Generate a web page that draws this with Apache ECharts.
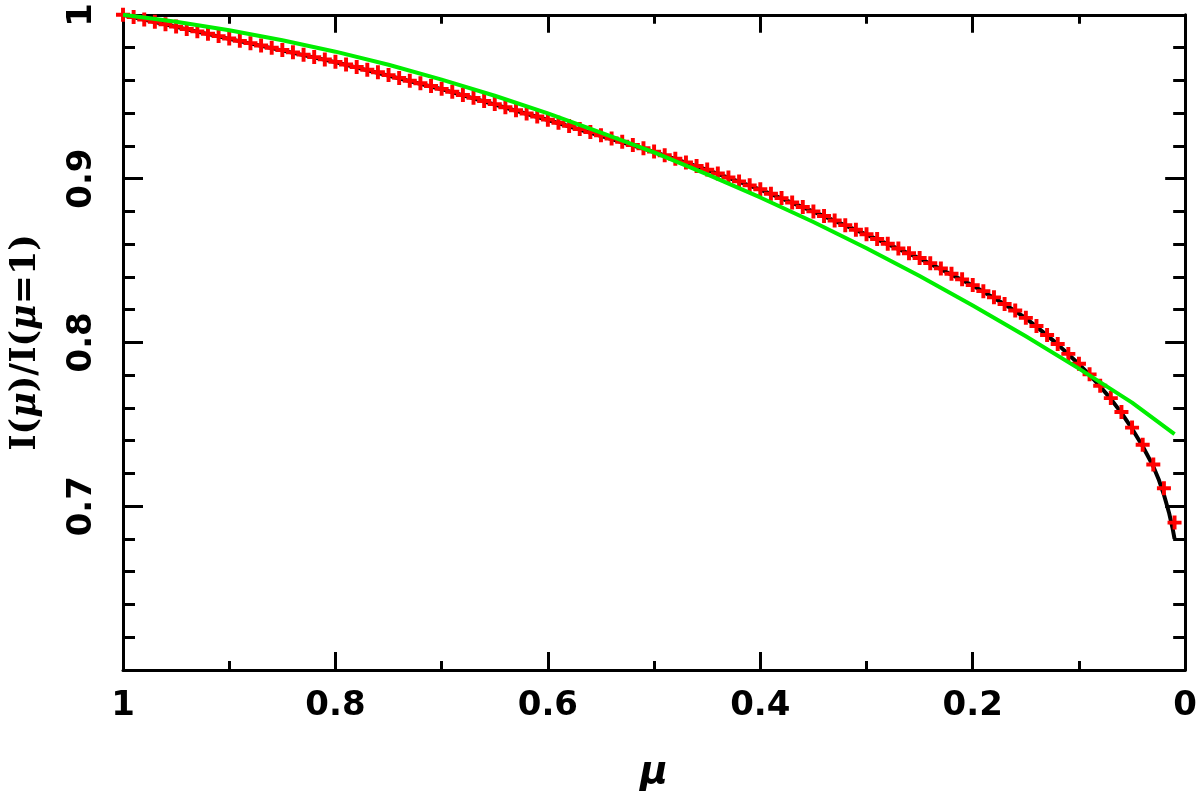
<!DOCTYPE html>
<html>
<head>
<meta charset="utf-8">
<script src="https://cdn.jsdelivr.net/npm/echarts@6/dist/echarts.min.js"></script>
<style>html,body{margin:0;padding:0;background:#fff}#c{width:1200px;height:808px}</style>
</head>
<body>
<div id="c"></div>
<script>
// Data points (red crosses): mu and normalized intensity
const muPoints = [1.00,0.99,0.98,0.97,0.96,0.95,0.94,0.93,0.92,0.91,
  0.90,0.89,0.88,0.87,0.86,0.85,0.84,0.83,0.82,0.81,
  0.80,0.79,0.78,0.77,0.76,0.75,0.74,0.73,0.72,0.71,
  0.70,0.69,0.68,0.67,0.66,0.65,0.64,0.63,0.62,0.61,
  0.60,0.59,0.58,0.57,0.56,0.55,0.54,0.53,0.52,0.51,
  0.50,0.49,0.48,0.47,0.46,0.45,0.44,0.43,0.42,0.41,
  0.40,0.39,0.38,0.37,0.36,0.35,0.34,0.33,0.32,0.31,
  0.30,0.29,0.28,0.27,0.26,0.25,0.24,0.23,0.22,0.21,
  0.20,0.19,0.18,0.17,0.16,0.15,0.14,0.13,0.12,0.11,
  0.10,0.09,0.08,0.07,0.06,0.05,0.04,0.03,0.02,0.01];
const pointValues = [1.0000,0.9986,0.9971,0.9957,0.9942,0.9928,0.9913,0.9899,0.9884,0.9870,
  0.9855,0.9841,0.9827,0.9813,0.9799,0.9785,0.9771,0.9757,0.9742,0.9728,
  0.9713,0.9697,0.9681,0.9665,0.9649,0.9632,0.9615,0.9598,0.9582,0.9565,
  0.9548,0.9530,0.9511,0.9493,0.9474,0.9455,0.9436,0.9417,0.9398,0.9379,
  0.9360,0.9341,0.9322,0.9303,0.9284,0.9265,0.9245,0.9225,0.9205,0.9185,
  0.9165,0.9143,0.9121,0.9099,0.9077,0.9055,0.9031,0.9007,0.8983,0.8959,
  0.8935,0.8908,0.8881,0.8854,0.8827,0.8800,0.8772,0.8744,0.8716,0.8688,
  0.8660,0.8631,0.8602,0.8573,0.8544,0.8515,0.8484,0.8452,0.8419,0.8385,
  0.8350,0.8313,0.8275,0.8235,0.8195,0.8150,0.8100,0.8045,0.7990,0.7930,
  0.7870,0.7805,0.7735,0.7660,0.7575,0.7480,0.7375,0.7255,0.7110,0.6900];

// Model curve (black)
const muModel = [1.0,0.9,0.8,0.7,0.6,0.5,0.45,0.4,0.35,0.3,0.25,0.2,0.17,0.15,0.13,0.12,0.11,0.1,0.09,0.08,0.07,0.06,0.05,0.04,0.03,0.025,0.02,0.015,0.012,0.01];
const modelValues = [1.0,0.9853,0.9711,0.9546,0.9358,0.9163,0.9053,0.8933,0.8798,0.8658,0.8513,0.8348,0.8233,0.8148,0.8043,0.7988,0.7928,0.7867,0.7802,0.7731,0.7655,0.7570,0.7473,0.7366,0.7243,0.7165,0.7070,0.6955,0.6870,0.6800];

// Fit curve (green)
const muFit = [1.00,0.95,0.90,0.85,0.80,0.75,0.70,0.65,0.60,0.55,0.50,0.45,0.40,0.35,0.30,0.25,0.20,0.15,0.10,0.05,0.01];
const fitValues = [1.0000,0.9958,0.9906,0.9845,0.9775,0.9695,0.9604,0.9506,0.9398,0.9281,0.9160,0.9026,0.8885,0.8735,0.8575,0.8405,0.8225,0.8037,0.7840,0.7632,0.7440];

// Tick labels
const xTickLabels = {1:'1',0.8:'0.8',0.6:'0.6',0.4:'0.4',0.2:'0.2',0:'0'};
const yTickLabels = {1:'1',0.9:'0.9',0.8:'0.8',0.7:'0.7'};

const zip = (a, b) => a.map((v, i) => [v, b[i]]);
const FONT = 'DejaVu Sans';
const axisLine = {show: true, onZero: false, lineStyle: {color: '#000', width: 3}};

const chart = echarts.init(document.getElementById('c'), null, {renderer: 'canvas'});
const plusPath = 'path://M3.6,0H6.4V3.6H10V6.4H6.4V10H3.6V6.4H0V3.6H3.6Z';

chart.setOption({
  animation: false,
  backgroundColor: '#fff',
  grid: {left: 122, right: 14, top: 10, bottom: 138, containLabel: false},
  xAxis: [{
    type: 'value', inverse: true, min: 0, max: 1, interval: 0.2, position: 'bottom',
    axisLine: axisLine,
    axisTick: {show: true, inside: true, length: 18, lineStyle: {color: '#000', width: 3}},
    minorTick: {show: true, splitNumber: 2, length: 9, lineStyle: {color: '#000', width: 3}},
    splitLine: {show: false}, minorSplitLine: {show: false},
    axisLabel: {show: true, margin: 19, color: '#000', fontFamily: FONT, fontWeight: 'bold', fontSize: 34,
      formatter: v => { const k = Math.round(v * 10) / 10; return xTickLabels[k] !== undefined ? xTickLabels[k] : ''; }},
    name: 'μ', nameLocation: 'middle', nameGap: 84,
    nameTextStyle: {color: '#000', fontFamily: FONT, fontWeight: 'bold', fontStyle: 'italic', fontSize: 38}
  }, {
    type: 'value', inverse: true, min: 0, max: 1, interval: 0.2, position: 'top',
    axisLine: axisLine,
    axisTick: {show: true, inside: true, length: 18, lineStyle: {color: '#000', width: 3}},
    minorTick: {show: true, splitNumber: 2, length: 9, lineStyle: {color: '#000', width: 3}},
    splitLine: {show: false}, axisLabel: {show: false}
  }],
  yAxis: [{
    type: 'value', min: 0.6, max: 1.0, interval: 0.1, position: 'left',
    axisLine: axisLine,
    axisTick: {show: true, inside: true, length: 20, lineStyle: {color: '#000', width: 3}},
    minorTick: {show: true, splitNumber: 5, length: 12, lineStyle: {color: '#000', width: 3}},
    splitLine: {show: false}, minorSplitLine: {show: false},
    axisLabel: {show: true, rotate: 90, margin: 24, color: '#000', fontFamily: FONT, fontWeight: 'bold', fontSize: 34,
      formatter: v => { const k = Math.round(v * 10) / 10; return yTickLabels[k] !== undefined ? yTickLabels[k] : ''; }},
    name: '{n|I(}{m|μ}{n|)/I(}{m|μ}{n|=1)}', nameLocation: 'middle', nameGap: 80, nameRotate: 90,
    nameTextStyle: {color: '#000', fontFamily: FONT, fontWeight: 'bold', fontSize: 35,
      rich: {
        n: {fontFamily: 'DejaVu Serif', fontWeight: 'bold', fontSize: 35, color: '#000'},
        m: {fontFamily: 'DejaVu Serif', fontWeight: 'bold', fontStyle: 'italic', fontSize: 35, color: '#000'}
      }}
  }, {
    type: 'value', min: 0.6, max: 1.0, interval: 0.1, position: 'right',
    axisLine: axisLine,
    axisTick: {show: true, inside: true, length: 20, lineStyle: {color: '#000', width: 3}},
    minorTick: {show: true, splitNumber: 5, length: 12, lineStyle: {color: '#000', width: 3}},
    splitLine: {show: false}, axisLabel: {show: false}
  }],
  series: [{
    name: 'model', type: 'line', xAxisIndex: 0, yAxisIndex: 0,
    data: zip(muModel, modelValues), smooth: false,
    showSymbol: false, symbol: 'none', lineStyle: {color: '#000', width: 4, join: 'round'}, z: 2
  }, {
    name: 'points', type: 'scatter', xAxisIndex: 0, yAxisIndex: 0,
    data: zip(muPoints, pointValues), symbol: plusPath, symbolSize: 14,
    itemStyle: {color: '#ff0000', opacity: 1}, z: 3
  }, {
    name: 'fit', type: 'line', xAxisIndex: 0, yAxisIndex: 0,
    data: zip(muFit, fitValues), smooth: false,
    showSymbol: false, symbol: 'none', lineStyle: {color: '#00ee00', width: 4, join: 'round'}, z: 4
  }]
});
</script>
</body>
</html>
